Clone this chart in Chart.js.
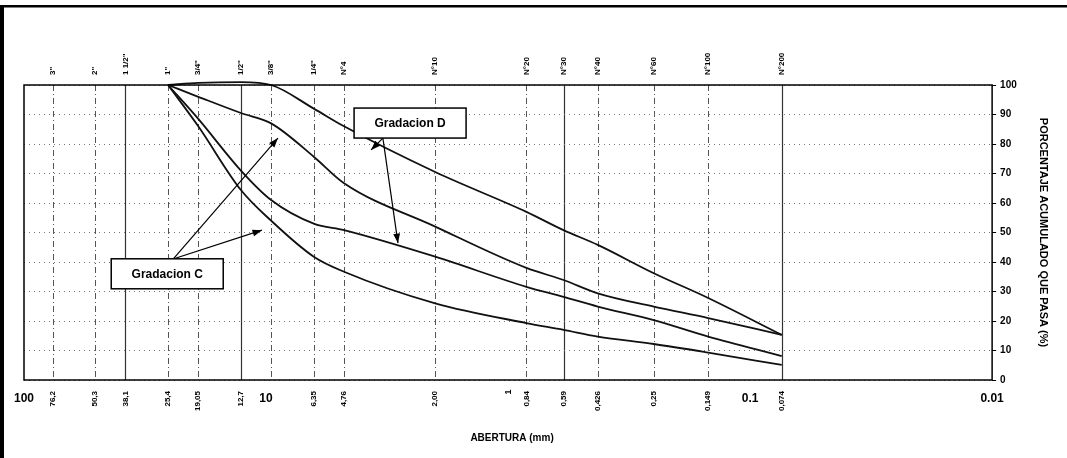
<!DOCTYPE html>
<html>
<head>
<meta charset="utf-8">
<title>Curva granulometrica</title>
<script src="https://cdn.jsdelivr.net/npm/chart.js@4.4.0/dist/chart.umd.min.js"></script>
<style>
	body { margin: 0; background: #fff; }
	#wrap { width: 1067px; height: 458px; }
</style>
</head>
<body>
<div id="wrap"><canvas id="granChart" width="1067" height="458"></canvas></div>
<script>
// sieves (name on top, opening in mm, label under the axis)
var sieveNames = ['3"', '2"', '1 1/2"', '1"', '3/4"', '1/2"', '3/8"', '1/4"', 'N°4', 'N°10', 'N°20', 'N°30', 'N°40', 'N°60', 'N°100', 'N°200'];
var sieveSizes = [76.2, 50.8, 38.1, 25.4, 19.05, 12.7, 9.525, 6.35, 4.76, 2.00, 0.84, 0.59, 0.426, 0.25, 0.149, 0.074];
var sizeLabels = ['76,2', '50,3', '38,1', '25,4', '19,05', '12,7', '', '6,35', '4,76', '2,00', '0,84', '0,59', '0,426', '0,25', '0,149', '0,074'];
var decadeValues = [100, 10, 1, 0.1, 0.01];
var decadeLabels = ['100', '10', '1', '0.1', '0.01'];

// opening of the points on the curves (mm)
var curveSizes = [25.4, 19.05, 12.7, 9.525, 6.35, 4.76, 2.00, 0.84, 0.59, 0.426, 0.25, 0.149, 0.074];
// % que pasa
var gradDUpper = [100, 100.7, 101, 100, 92, 86, 70.5, 57, 50.8, 45.8, 36.2, 27.8, 15.3];
var gradDLower = [100, 96, 90.5, 87, 75.7, 66.7, 52, 38, 33.9, 29.4, 24.9, 21, 15.3];
var gradCUpper = [100, 88.5, 71, 61, 53, 50.8, 41.8, 31.6, 28.2, 24.9, 20.3, 14.7, 8.1];
var gradCLower = [100, 86, 64.4, 54, 41.8, 36.7, 26, 19.3, 17, 14.7, 12.2, 9.3, 5.1];

var yTicks = [0, 10, 20, 30, 40, 50, 60, 70, 80, 90, 100];

// callout boxes: [text, mm, %] and arrows: [from mm, from %, to mm, to %]
var boxes = [['Gradacion D', 2.54, 87.1], ['Gradacion C', 25.6, 36]];
var arrows = [
	[3.29, 82, 3.68, 78],
	[3.29, 82, 2.85, 46.4],
	[24.2, 41, 8.93, 82],
	[24.2, 41, 10.4, 50.8]
];

function toPoints(values) {
	var pts = [];
	for (var i = 0; i < curveSizes.length; i++) {
		pts.push({ x: curveSizes[i], y: values[i] });
	}
	return pts;
}

function curve(values) {
	return {
		data: toPoints(values),
		showLine: true,
		borderColor: '#111',
		borderWidth: 1.8,
		pointRadius: 0,
		cubicInterpolationMode: 'monotone',
		clip: false
	};
}

var decorPlugin = {
	id: 'decor',
	beforeDraw: function(chart) {
		var ctx = chart.ctx;
		var xs = chart.scales.x;
		var area = chart.chartArea;
		ctx.save();
		ctx.fillStyle = '#fff';
		ctx.fillRect(0, 0, chart.width, chart.height);
		// page frame
		ctx.fillStyle = '#000';
		ctx.fillRect(0, 5, 4, chart.height - 5);
		ctx.fillRect(0, 5, chart.width, 2.5);

		// vertical sieve lines
		var solid = [2, 5, 11, 15];
		for (var i = 0; i < sieveSizes.length; i++) {
			var px = Math.round(xs.getPixelForValue(sieveSizes[i])) + 0.5;
			ctx.beginPath();
			if (solid.indexOf(i) >= 0) {
				ctx.setLineDash([]);
				ctx.strokeStyle = '#333';
				ctx.lineWidth = 1.2;
			} else {
				ctx.setLineDash([6, 3, 1, 3]);
				ctx.strokeStyle = '#555';
				ctx.lineWidth = 1;
			}
			ctx.moveTo(px, area.top);
			ctx.lineTo(px, area.bottom);
			ctx.stroke();
		}
		ctx.restore();
	},
	afterDraw: function(chart) {
		var ctx = chart.ctx;
		var xs = chart.scales.x;
		var ys = chart.scales.y;
		var area = chart.chartArea;
		ctx.save();

		// plot frame
		ctx.setLineDash([]);
		ctx.strokeStyle = '#000';
		ctx.lineWidth = 1.5;
		ctx.strokeRect(area.left, area.top, area.right - area.left, area.bottom - area.top);

		ctx.fillStyle = '#000';
		// sieve names on top
		ctx.font = 'bold 8px Arial';
		ctx.textAlign = 'left';
		ctx.textBaseline = 'middle';
		for (var i = 0; i < sieveNames.length; i++) {
			var px = xs.getPixelForValue(sieveSizes[i]);
			ctx.save();
			ctx.translate(px, area.top - 10);
			ctx.rotate(-Math.PI / 2);
			ctx.fillText(sieveNames[i], 0, 0);
			ctx.restore();
		}

		// openings under the axis
		ctx.textAlign = 'right';
		for (var j = 0; j < sizeLabels.length; j++) {
			if (!sizeLabels[j]) continue;
			var px2 = xs.getPixelForValue(sieveSizes[j]);
			ctx.save();
			ctx.translate(px2, area.bottom + 11);
			ctx.rotate(-Math.PI / 2);
			ctx.fillText(sizeLabels[j], 0, 0);
			ctx.restore();
		}

		// decades
		ctx.font = 'bold 12px Arial';
		ctx.textAlign = 'center';
		for (var k = 0; k < decadeValues.length; k++) {
			var px3 = xs.getPixelForValue(decadeValues[k]);
			if (decadeLabels[k] === '1') {
				ctx.save();
				ctx.font = 'bold 9px Arial';
				ctx.translate(px3, area.bottom + 12);
				ctx.rotate(-Math.PI / 2);
				ctx.fillText('1', 0, 0);
				ctx.restore();
			} else {
				ctx.fillText(decadeLabels[k], px3, area.bottom + 19);
			}
		}

		// x title
		ctx.font = 'bold 10px Arial';
		ctx.fillText('ABERTURA (mm)', (area.left + area.right) / 2 + 4, area.bottom + 58);

		// arrows
		ctx.lineWidth = 1.2;
		ctx.strokeStyle = '#000';
		for (var a = 0; a < arrows.length; a++) {
			var x1 = xs.getPixelForValue(arrows[a][0]);
			var y1 = ys.getPixelForValue(arrows[a][1]);
			var x2 = xs.getPixelForValue(arrows[a][2]);
			var y2 = ys.getPixelForValue(arrows[a][3]);
			var ang = Math.atan2(y2 - y1, x2 - x1);
			ctx.beginPath();
			ctx.moveTo(x1, y1);
			ctx.lineTo(x2, y2);
			ctx.stroke();
			ctx.beginPath();
			ctx.moveTo(x2, y2);
			ctx.lineTo(x2 - 10 * Math.cos(ang - 0.35), y2 - 10 * Math.sin(ang - 0.35));
			ctx.lineTo(x2 - 10 * Math.cos(ang + 0.35), y2 - 10 * Math.sin(ang + 0.35));
			ctx.closePath();
			ctx.fill();
		}

		// boxes
		ctx.font = 'bold 12px Arial';
		ctx.textBaseline = 'middle';
		for (var b = 0; b < boxes.length; b++) {
			var cx = xs.getPixelForValue(boxes[b][1]);
			var cy = ys.getPixelForValue(boxes[b][2]);
			ctx.fillStyle = '#fff';
			ctx.fillRect(cx - 56, cy - 15, 112, 30);
			ctx.lineWidth = 1.5;
			ctx.strokeRect(cx - 56, cy - 15, 112, 30);
			ctx.fillStyle = '#000';
			ctx.fillText(boxes[b][0], cx, cy + 1);
		}
		ctx.restore();
	}
};

var ctx = document.getElementById('granChart').getContext('2d');
var chart = new Chart(ctx, {
	type: 'scatter',
	data: {
		datasets: [curve(gradDUpper), curve(gradDLower), curve(gradCUpper), curve(gradCLower)]
	},
	options: {
		responsive: false,
		animation: false,
		layout: { padding: { left: 24, top: 85, right: 9, bottom: 70 } },
		plugins: {
			legend: { display: false },
			tooltip: { enabled: false }
		},
		scales: {
			x: {
				type: 'logarithmic',
				reverse: true,
				min: 0.01,
				max: 100,
				ticks: { display: false },
				grid: { display: false },
				border: { display: false }
			},
			y: {
				position: 'right',
				min: 0,
				max: 100,
				afterBuildTicks: function(axis) {
					axis.ticks = yTicks.map(function(v) { return { value: v }; });
				},
				ticks: {
					color: '#000',
					font: { family: 'Arial', size: 10, weight: 'bold' },
					padding: 4
				},
				grid: {
					color: '#777',
					lineWidth: 1,
					tickLength: 4,
					tickColor: '#000',
					tickBorderDash: []
				},
				border: { display: false, dash: [1, 4] },
				title: {
					display: true,
					text: 'PORCENTAJE ACUMULADO QUE PASA (%)',
					color: '#000',
					font: { family: 'Arial', size: 11, weight: 'bold' },
					padding: { top: 8, bottom: 16 }
				}
			}
		}
	},
	plugins: [decorPlugin]
});
</script>
</body>
</html>
